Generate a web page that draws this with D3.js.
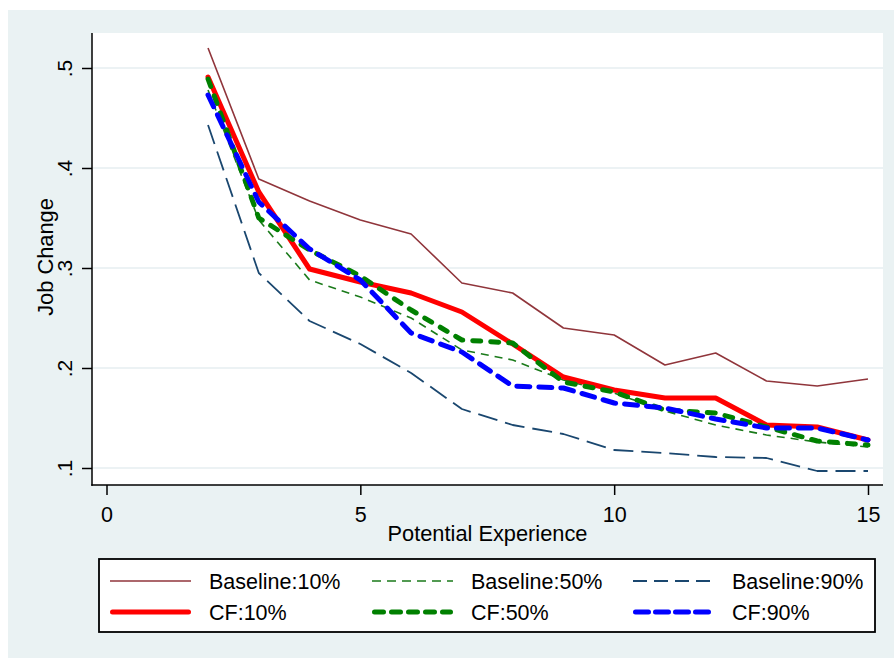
<!DOCTYPE html>
<html>
<head>
<meta charset="utf-8">
<script src="https://cdn.jsdelivr.net/npm/d3@7"></script>
<style>
  html, body { margin: 0; padding: 0; background: #ffffff; }
  svg { display: block; font-family: "Liberation Sans", Arial, sans-serif; }
</style>
</head>
<body>
<svg id="chart" width="894" height="658"></svg>
<script>
// Potential experience (years)
const experience = [2, 3, 4, 5, 6, 7, 8, 9, 10, 11, 12, 13, 14, 15];

// Job change rates by quantile
const baseline10 = [0.520, 0.389, 0.367, 0.348, 0.334, 0.285, 0.275, 0.240, 0.233, 0.203, 0.215, 0.187, 0.182, 0.189];
const baseline50 = [0.478, 0.348, 0.288, 0.271, 0.250, 0.218, 0.208, 0.188, 0.175, 0.157, 0.143, 0.133, 0.126, 0.121];
const baseline90 = [0.443, 0.295, 0.247, 0.224, 0.195, 0.159, 0.143, 0.134, 0.118, 0.115, 0.111, 0.110, 0.097, 0.097];
const cf10       = [0.491, 0.376, 0.299, 0.286, 0.275, 0.256, 0.224, 0.191, 0.178, 0.170, 0.170, 0.143, 0.141, 0.128];
const cf50       = [0.489, 0.350, 0.318, 0.292, 0.258, 0.228, 0.225, 0.186, 0.176, 0.158, 0.155, 0.141, 0.127, 0.123];
const cf90       = [0.473, 0.366, 0.319, 0.288, 0.235, 0.216, 0.182, 0.180, 0.165, 0.160, 0.149, 0.140, 0.140, 0.128];

// Axis ticks
const xTicks = [0, 5, 10, 15];
const yTicks = [0.1, 0.2, 0.3, 0.4, 0.5];

// Series definitions (drawing order: baselines first, then counterfactuals)
const series = [
  { name: "Baseline:10%", values: baseline10, color: "#90353b", width: 1.6, dash: null,    cap: "butt",  legendDash: null },
  { name: "Baseline:50%", values: baseline50, color: "#1a7a1a", width: 1.6, dash: "8,6",   cap: "butt",  legendDash: "9,6" },
  { name: "Baseline:90%", values: baseline90, color: "#1a476f", width: 1.8, dash: "20,8",  cap: "butt",  legendDash: "14,7" },
  { name: "CF:10%",       values: cf10,       color: "#ff0000", width: 5,   dash: null,    cap: "round", legendDash: null },
  { name: "CF:50%",       values: cf50,       color: "#008000", width: 5,   dash: "8,10",  cap: "round", legendDash: "9,8" },
  { name: "CF:90%",       values: cf90,       color: "#0000ff", width: 5,   dash: "13,9",  cap: "round", legendDash: "13,7" }
];

const svg = d3.select("#chart");
const W = 894, H = 658;

// Graph region background
svg.append("rect").attr("x", 8).attr("y", 10).attr("width", W - 8).attr("height", H - 10)
  .attr("fill", "#eaf2f3");

// Plot region
const plot = { left: 92, right: 883, top: 33, bottom: 485 };
svg.append("rect")
  .attr("x", plot.left).attr("y", plot.top)
  .attr("width", plot.right - plot.left).attr("height", plot.bottom - plot.top)
  .attr("fill", "#ffffff");

const x = d3.scaleLinear().domain([0, 15]).range([106.5, 868]);
const y = d3.scaleLinear().domain([0.1, 0.5]).range([468, 68]);

// Horizontal gridlines
svg.append("g").selectAll("line").data(yTicks).join("line")
  .attr("x1", plot.left).attr("x2", plot.right)
  .attr("y1", d => y(d)).attr("y2", d => y(d))
  .attr("stroke", "#e6eef0").attr("stroke-width", 1.5);

// Y axis
const yAxis = d3.axisLeft(y).tickValues(yTicks).tickSize(10).tickSizeOuter(0)
  .tickFormat(d => d3.format(".1f")(d).replace(/^0/, ""));
const gy = svg.append("g").attr("transform", `translate(${plot.left},0)`).call(yAxis);
gy.select(".domain").remove();
gy.selectAll(".tick line").attr("stroke", "#000").attr("stroke-width", 1.5);
gy.selectAll(".tick text")
  .attr("x", null).attr("dy", null)
  .attr("transform", "translate(-20,0) rotate(-90)")
  .attr("text-anchor", "middle")
  .attr("font-size", 21).attr("fill", "#000");

// X axis
const xAxis = d3.axisBottom(x).tickValues(xTicks).tickSize(10).tickSizeOuter(0).tickFormat(d3.format("d"));
const gx = svg.append("g").attr("transform", `translate(0,${plot.bottom})`).call(xAxis);
gx.select(".domain").remove();
gx.selectAll(".tick line").attr("stroke", "#000").attr("stroke-width", 1.5);
gx.selectAll(".tick text").attr("y", 37).attr("dy", null).attr("font-size", 21.5).attr("fill", "#000");

// Axis lines
svg.append("line").attr("x1", plot.left).attr("x2", plot.left)
  .attr("y1", plot.top).attr("y2", plot.bottom + 0.75)
  .attr("stroke", "#000").attr("stroke-width", 1.5);
svg.append("line").attr("x1", plot.left - 0.75).attr("x2", plot.right)
  .attr("y1", plot.bottom).attr("y2", plot.bottom)
  .attr("stroke", "#000").attr("stroke-width", 1.5);

// Axis titles
svg.append("text").attr("x", (plot.left + plot.right) / 2).attr("y", 541)
  .attr("text-anchor", "middle").attr("font-size", 21.8).attr("fill", "#000")
  .text("Potential Experience");
svg.append("text").attr("transform", `translate(53,${(plot.top + plot.bottom) / 2 - 2}) rotate(-90)`)
  .attr("text-anchor", "middle").attr("font-size", 21.8).attr("fill", "#000")
  .text("Job Change");

// Lines
const line = d3.line().x((d, i) => x(experience[i])).y(d => y(d));
svg.append("g").selectAll("path").data(series).join("path")
  .attr("d", s => line(s.values))
  .attr("fill", "none")
  .attr("stroke", s => s.color)
  .attr("stroke-width", s => s.width)
  .attr("stroke-dasharray", s => s.dash)
  .attr("stroke-linecap", s => s.cap)
  .attr("stroke-linejoin", "round");

// Legend
const legend = svg.append("g");
legend.append("rect").attr("x", 99).attr("y", 559).attr("width", 776).attr("height", 73)
  .attr("fill", "#ffffff").attr("stroke", "#000").attr("stroke-width", 1.8);

const colX = [110, 372, 633];
const rowY = [581, 612];
series.forEach((s, i) => {
  const col = i % 3, row = Math.floor(i / 3);
  const gx0 = colX[col], gy0 = rowY[row];
  legend.append("line")
    .attr("x1", gx0 + (s.cap === "round" ? 2.5 : 0)).attr("x2", gx0 + 81 - (s.cap === "round" ? 2.5 : 0))
    .attr("y1", gy0).attr("y2", gy0)
    .attr("stroke", s.color).attr("stroke-width", s.width)
    .attr("stroke-dasharray", s.legendDash).attr("stroke-linecap", s.cap);
  legend.append("text").attr("x", gx0 + 99).attr("y", gy0 + 7.5)
    .attr("font-size", 21.5).attr("fill", "#000").text(s.name);
});
</script>
</body>
</html>
